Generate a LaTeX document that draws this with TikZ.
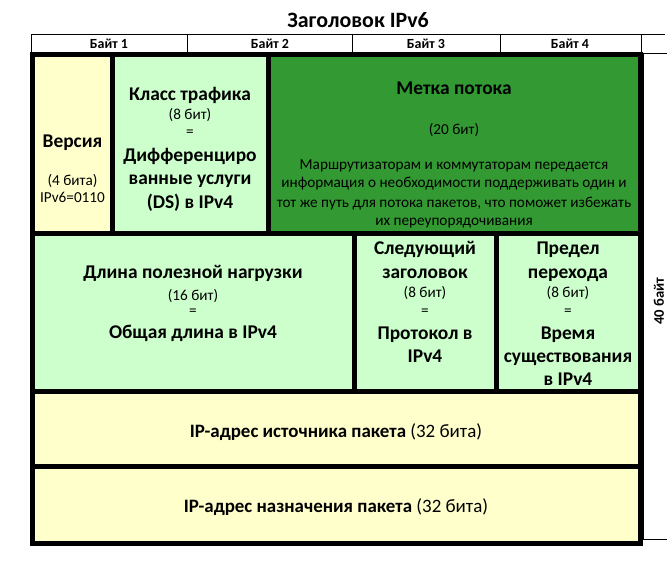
\documentclass[tikz,border=0pt]{standalone}
\usepackage{fontspec}
\setmainfont{Carlito}
\definecolor{ylw}{HTML}{FFFFCC}
\definecolor{lgr}{HTML}{CCFFCC}
\definecolor{dgr}{HTML}{339933}
\tikzset{
  big/.style={font=\fontsize{19.5}{22}\selectfont\bfseries, inner sep=0pt, anchor=base, yshift=-6bp},
  sml/.style={font=\fontsize{15.3}{17}\selectfont, inner sep=0pt, anchor=base, yshift=-4.5bp},
  addr/.style={font=\fontsize{19}{22}\selectfont, inner sep=0pt, anchor=base, yshift=-6bp},
  hdr/.style={font=\fontsize{14}{16}\selectfont\bfseries, inner sep=0pt, anchor=base, yshift=-4bp},
  ttl/.style={font=\fontsize{22}{24}\selectfont\bfseries, inner sep=0pt, anchor=base, yshift=-6.5bp},
  heavy/.style={line width=5bp, line cap=rect},
  fine/.style={line width=1bp},
}
\begin{document}
\begin{tikzpicture}[x=1bp,y=-1bp]
\useasboundingbox (0,0) rectangle (667,577);
% title
\node[ttl] (title) at (358,21) {Заголовок IPv6};
% header row
\draw[fine] (31,35) -- (665,35);
\draw[fine] (31,35) rectangle (641,55);
\draw[fine] (187,35) -- (187,55);
\draw[fine] (352,35) -- (352,55);
\draw[fine] (500,35) -- (500,55);
\node[hdr] (b1) at (109,45) {Байт 1};
\node[hdr] (b2) at (270,45) {Байт 2};
\node[hdr] (b3) at (426,45) {Байт 3};
\node[hdr] (b4) at (570,45) {Байт 4};
% side box
\draw[fine] (668,54) -- (643,54) -- (643,539) -- (668,539);
\node[hdr, font=\fontsize{14.67}{17}\selectfont\bfseries, rotate=90, anchor=center, yshift=0bp] (side) at (659,297) {40 байт};
% cell fills
\fill[ylw] (32.5,55) rectangle (112.5,233);
\fill[lgr] (112.5,55) rectangle (268,233);
\fill[dgr] (268,55) rectangle (640.5,233);
\fill[lgr] (32.5,233) rectangle (640.5,391);
\fill[ylw] (32.5,391) rectangle (640.5,543);
% grid
\draw[heavy] (32.5,55) rectangle (640.5,543);
\draw[heavy] (32.5,233) -- (640.5,233);
\draw[heavy] (32.5,391) -- (640.5,391);
\draw[heavy] (32.5,466.5) -- (640.5,466.5);
\draw[heavy] (112.5,55) -- (112.5,233);
\draw[heavy] (268,55) -- (268,233);
\draw[heavy] (354,233) -- (354,391);
\draw[heavy] (496,233) -- (496,391);
% version
\node[big] (v1) at (72.5,142) {Версия};
\node[sml] (v2) at (72.5,181) {(4 бита)};
\node[sml] (v3) at (72.5,198) {IPv6=0110};
% traffic class
\node[big] (c1) at (190,95) {Класс трафика};
\node[sml] (c2) at (190,115) {(8 бит)};
\node[sml] (c3) at (190,132) {=};
\node[big] (c4) at (190,156) {Дифференциро};
\node[big] (c5) at (190,179) {ванные услуги};
\node[big] (c6) at (190,202) {(DS) в IPv4};
% flow label
\node[big] (f1) at (454,89) {Метка потока};
\node[sml] (f2) at (454,130) {(20 бит)};
\node[sml] (f3) at (454,165) {Маршрутизаторам и коммутаторам передается};
\node[sml] (f4) at (454,183) {информация о необходимости поддерживать один и};
\node[sml] (f5) at (454,203) {тот же путь для потока пакетов, что поможет избежать};
\node[sml] (f6) at (454,221) {их переупорядочивания};
% payload length
\node[big] (p1) at (193,272) {Длина полезной нагрузки};
\node[sml] (p2) at (193,296) {(16 бит)};
\node[sml] (p3) at (193,311) {=};
\node[big] (p4) at (193,332) {Общая длина в IPv4};
% next header
\node[big] (n1) at (425,248) {Следующий};
\node[big] (n2) at (425,272) {заголовок};
\node[sml] (n3) at (425,293) {(8 бит)};
\node[sml] (n4) at (425,311) {=};
\node[big] (n5) at (425,333) {Протокол в};
\node[big] (n6) at (425,356) {IPv4};
% hop limit
\node[big] (h1) at (568,248) {Предел};
\node[big] (h2) at (568,272) {перехода};
\node[sml] (h3) at (568,293) {(8 бит)};
\node[sml] (h4) at (568,311) {=};
\node[big] (h5) at (568,333) {Время};
\node[big] (h6) at (568,356) {существования};
\node[big] (h7) at (568,379) {в IPv4};
% addresses
\node[addr] (src) at (336,431) {\textbf{IP-адрес источника пакета} (32 бита)};
\node[addr] (dst) at (336,506) {\textbf{IP-адрес назначения пакета} (32 бита)};
\end{tikzpicture}
\end{document}
